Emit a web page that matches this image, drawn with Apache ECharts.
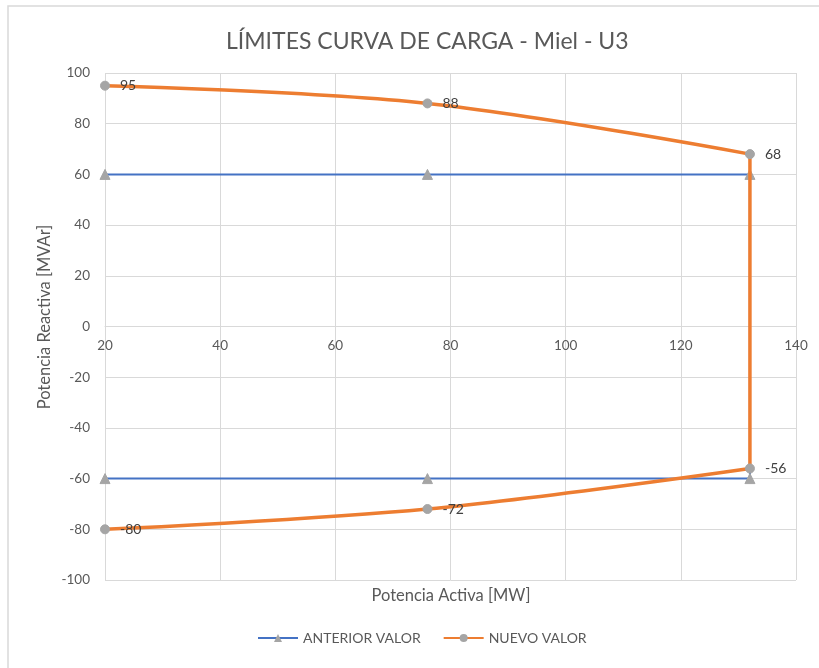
<!DOCTYPE html>
<html>
<head>
<meta charset="utf-8">
<script src="https://cdn.jsdelivr.net/npm/echarts@6/dist/echarts.min.js"></script>
<style>
html,body{margin:0;padding:0;background:#fff;}
#c{width:819px;height:668px;}
</style>
</head>
<body>
<div id="c"></div>
<script>
const titleText = 'LÍMITES CURVA DE CARGA - Miel - U3';
const xAxisName = 'Potencia Activa [MW]';
const yAxisName = 'Potencia Reactiva [MVAr]';
const seriesNames = ['ANTERIOR VALOR', 'NUEVO VALOR'];

// ANTERIOR VALOR (x, y)
const anteriorX = [20, 76, 132, 132, 76, 20];
const anteriorY = [60, 60, 60, -60, -60, -60];

// NUEVO VALOR split into top curve, vertical edge, bottom curve
const nuevoTopX = [20, 76, 132];
const nuevoTopY = [95, 88, 68];
const nuevoSideX = [132, 132];
const nuevoSideY = [68, -56];
const nuevoBotX = [132, 76, 20];
const nuevoBotY = [-56, -72, -80];

const xMin = 20, xMax = 140, xStep = 20;
const yMin = -100, yMax = 100, yStep = 20;

const zip = (xs, ys) => xs.map((x, i) => [x, ys[i]]);

const FONT = 'Lato, "Open Sans", sans-serif';
const BLUE = '#4472C4';
const ORANGE = '#ED7D31';
const MARK = '#A5A5A5';

const GRID_TOP = 73, GRID_BOTTOM = 88, H = 668;
const gridH = H - GRID_TOP - GRID_BOTTOM;
// x-axis crosses the y-axis at 0: shift from the grid bottom up to y = 0
const zeroOffset = -gridH * (0 - yMin) / (yMax - yMin);

const chart = echarts.init(document.getElementById('c'), null, {renderer: 'canvas'});

const nuevoLabel = {
  show: true, position: 'right', distance: 10,
  color: '#404040', fontSize: 14, fontFamily: FONT,
  formatter: p => p.value[1]
};

chart.setOption({
  animation: false,
  backgroundColor: '#fff',
  title: {
    text: titleText, left: 221, top: 25,
    textStyle: {color: '#595959', fontSize: 23, fontWeight: 'normal', fontFamily: FONT}
  },
  legend: {
    bottom: 18, left: 252, itemGap: 22, itemWidth: 40, itemHeight: 10,
    textStyle: {color: '#595959', fontSize: 14, fontFamily: FONT},
    data: seriesNames
  },
  grid: {left: 105, right: 23, top: GRID_TOP, bottom: GRID_BOTTOM, containLabel: false},
  xAxis: {
    type: 'value', min: xMin, max: xMax, interval: xStep,
    position: 'bottom', offset: zeroOffset,
    axisLine: {show: true, onZero: false, lineStyle: {color: '#D9D9D9', width: 1}},
    axisTick: {show: false},
    axisLabel: {color: '#595959', fontSize: 13.5, fontFamily: FONT, margin: 12},
    splitLine: {show: true, lineStyle: {color: '#D9D9D9', width: 1}}
  },
  yAxis: {
    type: 'value', min: yMin, max: yMax, interval: yStep,
    axisLine: {show: false},
    axisTick: {show: false},
    axisLabel: {color: '#595959', fontSize: 13.5, fontFamily: FONT, margin: 15},
    splitLine: {show: true, lineStyle: {color: '#D9D9D9', width: 1}}
  },
  graphic: [
    {type: 'rect', shape: {x: 8, y: 6, width: 830, height: 700}, style: {fill: 'none', stroke: '#D9D9D9', lineWidth: 1.5}, silent: true},
    {type: 'text', x: 451, y: 596, style: {text: xAxisName, fill: '#595959', fontSize: 16.5, fontFamily: FONT, textAlign: 'center', textVerticalAlign: 'middle'}},
    {type: 'text', x: 45, y: 317, rotation: Math.PI / 2, style: {text: yAxisName, fill: '#595959', fontSize: 16.5, fontFamily: FONT, textAlign: 'center', textVerticalAlign: 'middle'}}
  ],
  series: [
    {
      name: seriesNames[0], type: 'line', data: zip(anteriorX, anteriorY),
      symbol: 'triangle', symbolSize: 10, showAllSymbol: true,
      lineStyle: {color: BLUE, width: 2},
      itemStyle: {color: MARK, borderColor: MARK},
      z: 2
    },
    {
      name: seriesNames[1], type: 'line', data: zip(nuevoTopX, nuevoTopY), smooth: 0.35,
      symbol: 'circle', symbolSize: 9, showAllSymbol: true,
      lineStyle: {color: ORANGE, width: 3.5},
      itemStyle: {color: MARK, borderColor: MARK},
      label: nuevoLabel, z: 4
    },
    {
      name: seriesNames[1], type: 'line', data: zip(nuevoSideX, nuevoSideY),
      symbol: 'none', lineStyle: {color: ORANGE, width: 3.5},
      itemStyle: {color: MARK}, z: 3
    },
    {
      name: seriesNames[1], type: 'line', data: zip(nuevoBotX, nuevoBotY), smooth: 0.35,
      symbol: 'circle', symbolSize: 9, showAllSymbol: true,
      lineStyle: {color: ORANGE, width: 3.5},
      itemStyle: {color: MARK, borderColor: MARK},
      label: nuevoLabel, z: 4
    }
  ]
});
</script>
</body>
</html>
